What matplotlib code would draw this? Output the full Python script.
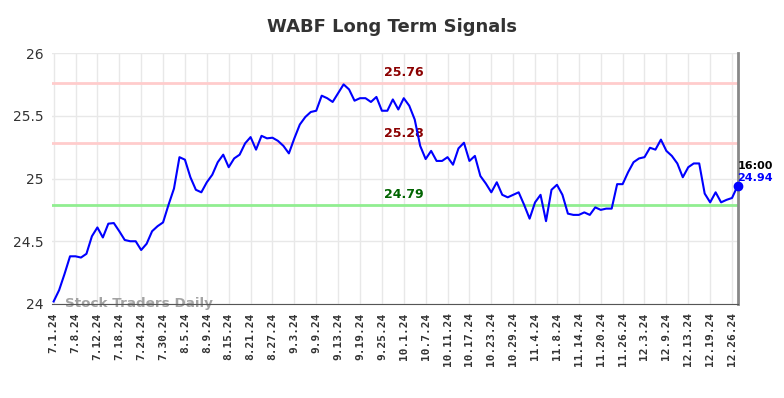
import matplotlib.pyplot as plt

# closing prices, one per trading day (7.1.24 .. 12.27.24)
prices = [
    24.02, 24.11, 24.24, 24.38, 24.38, 24.37, 24.40, 24.54, 24.61, 24.53,
    24.64, 24.645, 24.58, 24.51, 24.50, 24.50, 24.43, 24.48, 24.58, 24.62,
    24.65, 24.79, 24.92, 25.17, 25.15, 25.01, 24.91, 24.89, 24.97, 25.03,
    25.13, 25.19, 25.09, 25.16, 25.19, 25.28, 25.33, 25.23, 25.34, 25.32,
    25.325, 25.30, 25.26, 25.20, 25.32, 25.43, 25.49, 25.53, 25.54, 25.66,
    25.64, 25.61, 25.68, 25.75, 25.71, 25.62, 25.64, 25.64, 25.61, 25.65,
    25.54, 25.54, 25.63, 25.55, 25.64, 25.58, 25.47, 25.26, 25.155, 25.22,
    25.14, 25.14, 25.17, 25.11, 25.24, 25.285, 25.14, 25.18, 25.02, 24.96,
    24.89, 24.97, 24.87, 24.85, 24.87, 24.89, 24.79, 24.68, 24.81, 24.87,
    24.66, 24.91, 24.95, 24.87, 24.72, 24.71, 24.71, 24.73, 24.71, 24.77,
    24.75, 24.76, 24.76, 24.955, 24.955, 25.05, 25.13, 25.16, 25.17, 25.245,
    25.23, 25.31, 25.22, 25.18, 25.12, 25.01, 25.09, 25.12, 25.12, 24.88,
    24.81, 24.89, 24.81, 24.83, 24.845, 24.94,
]

tick_labels = [
    "7.1.24", "7.8.24", "7.12.24", "7.18.24", "7.24.24", "7.30.24", "8.5.24",
    "8.9.24", "8.15.24", "8.21.24", "8.27.24", "9.3.24", "9.9.24", "9.13.24",
    "9.19.24", "9.25.24", "10.1.24", "10.7.24", "10.11.24", "10.17.24",
    "10.23.24", "10.29.24", "11.4.24", "11.8.24", "11.14.24", "11.20.24",
    "11.26.24", "12.3.24", "12.9.24", "12.13.24", "12.19.24", "12.26.24",
]
tick_step = 4

resistance = [25.76, 25.28]
support = [24.79]
last_time = "16:00"

fig = plt.figure(figsize=(7.84, 3.98), dpi=100)
ax = fig.add_axes([0.0663, 0.2362, 0.8744, 0.6306])

x = list(range(len(prices)))
ticks = [i * tick_step for i in range(len(tick_labels))]
label_x = 64

for level in resistance:
    ax.axhline(level, color="#ffcccc", lw=2, zorder=1)
    ax.text(label_x, level + 0.03, f"{level:.2f}", color="#8b0000", fontsize=9,
            fontweight="bold", ha="center", va="bottom")
for level in support:
    ax.axhline(level, color="#90ee90", lw=2, zorder=1)
    ax.text(label_x, level + 0.03, f"{level:.2f}", color="#006400", fontsize=9,
            fontweight="bold", ha="center", va="bottom")

ax.plot(x, prices, color="#0000ff", lw=1.5, zorder=3)
ax.plot(x[-1], prices[-1], "o", color="#0000ff", ms=6, zorder=4, clip_on=False)

ax.text(x[-1], prices[-1] + 0.12, last_time, fontsize=8, fontweight="bold",
        color="black", ha="left", va="bottom", clip_on=False)
ax.text(x[-1], prices[-1] + 0.1, f"{prices[-1]:.2f}", fontsize=8,
        fontweight="bold", color="#0000ff", ha="left", va="top", clip_on=False)

ax.text(2, 23.979, "Stock Traders Daily", fontsize=9.7, fontweight="bold",
        color="#999999", alpha=0.9, ha="left", va="baseline", zorder=2,
        clip_on=False)

ax.set_xlim(-0.3, x[-1])
ax.set_ylim(24, 26)
ax.set_yticks([24, 24.5, 25, 25.5, 26])
ax.set_yticklabels(["24", "24.5", "25", "25.5", "26"])
ax.set_xticks(ticks)
ax.set_xticklabels(tick_labels, rotation=90, fontsize=8, fontweight="bold",
                   family="DejaVu Sans Mono")
ax.tick_params(axis="both", length=0, colors="#333333", pad=6)
ax.tick_params(axis="y", labelsize=10)

ax.grid(True, color="#e8e8e8", lw=1)
ax.set_axisbelow(True)
for side in ["left", "top"]:
    ax.spines[side].set_visible(False)
ax.spines["bottom"].set_color("#555555")
ax.spines["right"].set_color("#888888")
ax.spines["right"].set_linewidth(2)

fig.suptitle("WABF Long Term Signals", fontsize=13, fontweight="bold",
             color="#333333", y=0.955)

fig.savefig("out.png", dpi=100)
